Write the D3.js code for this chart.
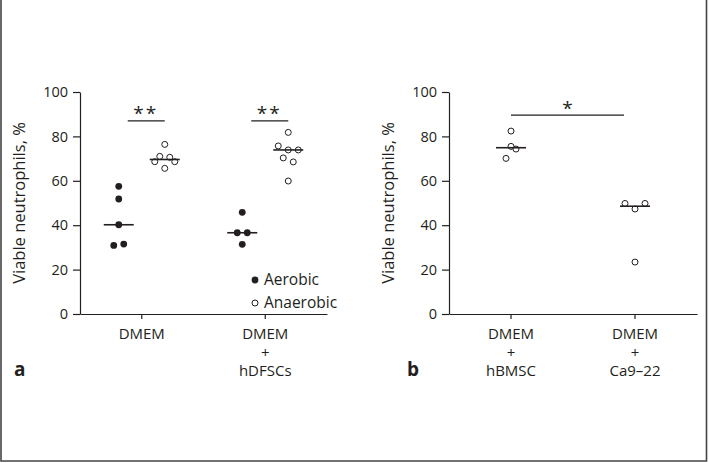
<!DOCTYPE html>
<html>
<head>
<meta charset="utf-8">
<script src="https://cdn.jsdelivr.net/npm/d3@7"></script>
<style>
  html, body { margin: 0; padding: 0; background: #fff; }
  svg { display: block; font-family: "Open Sans", "DejaVu Sans", sans-serif; }
</style>
</head>
<body>
<svg id="chart" width="709" height="463"></svg>
<script>
// ---------- data ----------
const yTicks = [0, 20, 40, 60, 80, 100];
const yLabel = "Viable neutrophils, %";

const panelACategories = ["DMEM", "DMEM + hDFSCs"];
const panelBCategories = ["DMEM + hBMSC", "DMEM + Ca9–22"];
const conditions = ["Aerobic", "Anaerobic"];

const aerobicDMEM     = [57.5, 51.8, 40.2, 30.9, 31.5];
const anaerobicDMEM   = [76.4, 71.0, 70.6, 68.6, 65.6, 68.6];
const aerobicHDFSC    = [45.8, 36.6, 36.6, 31.4];
const anaerobicHDFSC  = [81.8, 75.7, 73.9, 73.9, 70.3, 68.5, 59.9];
const anaerobicHBMSC  = [82.4, 75.5, 70.1, 74.3];
const anaerobicCa922  = [49.8, 47.3, 49.8, 23.4];

const sigA = [{cat: "DMEM", label: "**", level: 87}, {cat: "DMEM + hDFSCs", label: "**", level: 87}];
const sigB = [{label: "*", level: 89.6}];

// ---------- layout ----------
const svg = d3.select("#chart");
const ink = "#231f20";
const yTop = 92, yBottom = 314;
const y = d3.scaleLinear().domain([0, 100]).range([yBottom, yTop]);

// border (left, bottom, right)
svg.append("path")
  .attr("d", "M1,0 V461 H706.5 V0")
  .attr("fill", "none").attr("stroke", "#444").attr("stroke-width", 1.6);

// swarm offsets: group close values into rows, spread each row horizontally
function swarm(values, thresh = 4.6, step = 10) {
  const idx = values.map((v, i) => i).sort((a, b) => values[a] - values[b]);
  const rows = [];
  let cur = null;
  for (const i of idx) {
    if (cur && values[i] - values[cur[0]] <= thresh) cur.push(i);
    else { cur = [i]; rows.push(cur); }
  }
  const off = new Array(values.length);
  rows.forEach(r => {
    r.sort((a, b) => a - b);
    r.forEach((i, k) => off[i] = (k - (r.length - 1) / 2) * step);
  });
  return off;
}

function drawPanel(x0, x1, cats, groups, letter, letterX) {
  const g = svg.append("g");
  const x = d3.scaleBand().domain(cats).range([x0, x1]);
  const cx = c => x(c) + x.bandwidth() / 2;

  // y axis
  const yAxis = g.append("g").attr("transform", `translate(${x0},0)`)
    .call(d3.axisLeft(y).tickValues(yTicks).tickSize(7).tickSizeOuter(0).tickPadding(5));
  yAxis.selectAll("text").attr("font-size", 14.5).attr("fill", ink)
    .attr("font-family", "Open Sans, sans-serif");
  yAxis.selectAll("line,path").attr("stroke", ink).attr("stroke-width", 1.2);

  // x axis
  const xAxis = g.append("g").attr("transform", `translate(0,${yBottom})`)
    .call(d3.axisBottom(x).tickSize(5).tickSizeOuter(0).tickFormat(""));
  xAxis.selectAll("line,path").attr("stroke", ink).attr("stroke-width", 1.2);

  // category labels (multi-line)
  cats.forEach(c => {
    const lines = c.split(" + ").flatMap((s, i) => i ? ["+", s] : [s]);
    lines.forEach((s, i) => {
      g.append("text").attr("text-anchor", "middle")
        .attr("x", cx(c)).attr("y", 339 + i * 18.5)
        .attr("font-size", 15).attr("fill", ink).text(s);
    });
  });

  // y label
  g.append("text")
    .attr("transform", `translate(${x0 - 55},${(yTop + yBottom) / 2}) rotate(-90)`)
    .attr("text-anchor", "middle").attr("font-size", 16.5).attr("fill", ink)
    .text(yLabel);

  // panel letter
  g.append("text").attr("x", letterX).attr("y", 376)
    .attr("font-size", 19).attr("font-weight", "bold").attr("fill", ink).text(letter);

  // points + medians
  groups.forEach(gr => {
    const center = cx(gr.cat) + gr.shift;
    const off = swarm(gr.values);
    g.selectAll(null).data(gr.values).enter().append("circle")
      .attr("cx", (d, i) => center + off[i])
      .attr("cy", d => y(d))
      .attr("r", gr.filled ? 3.4 : 3.0)
      .attr("fill", gr.filled ? ink : "#fff")
      .attr("stroke", ink).attr("stroke-width", gr.filled ? 0 : 1);
    const med = d3.median(gr.values);
    g.append("line")
      .attr("x1", center - 15).attr("x2", center + 15)
      .attr("y1", y(med)).attr("y2", y(med))
      .attr("stroke", ink).attr("stroke-width", 1.6);
  });
  return {x, cx, g};
}

const cond = d3.scalePoint().domain(conditions).range([-23, 23]);

const A = drawPanel(80, 327, panelACategories, [
  {cat: "DMEM", shift: cond("Aerobic"), values: aerobicDMEM, filled: true},
  {cat: "DMEM", shift: cond("Anaerobic"), values: anaerobicDMEM, filled: false},
  {cat: "DMEM + hDFSCs", shift: cond("Aerobic"), values: aerobicHDFSC, filled: true},
  {cat: "DMEM + hDFSCs", shift: cond("Anaerobic"), values: anaerobicHDFSC, filled: false}
], "a", 14);

const B = drawPanel(449, 697, panelBCategories, [
  {cat: "DMEM + hBMSC", shift: 0, values: anaerobicHBMSC, filled: false},
  {cat: "DMEM + Ca9–22", shift: 0, values: anaerobicCa922, filled: false}
], "b", 407);

// significance bars
sigA.forEach(s => {
  const c = A.cx(s.cat);
  A.g.append("line").attr("x1", c - 14).attr("x2", c + 23)
    .attr("y1", y(s.level)).attr("y2", y(s.level)).attr("stroke", ink).attr("stroke-width", 1.3);
  A.g.append("text").attr("x", c + 4).attr("y", y(s.level) - 0.5)
    .attr("text-anchor", "middle").attr("font-size", 19).attr("letter-spacing", 2)
    .attr("fill", ink).text(s.label);
});
sigB.forEach(s => {
  const c1 = B.cx(panelBCategories[0]), c2 = B.cx(panelBCategories[1]);
  B.g.append("line").attr("x1", c1).attr("x2", c2 - 11)
    .attr("y1", y(s.level)).attr("y2", y(s.level)).attr("stroke", ink).attr("stroke-width", 1.3);
  B.g.append("text").attr("x", (c1 + c2 - 11) / 2).attr("y", y(s.level) - 0.5)
    .attr("text-anchor", "middle").attr("font-size", 19).attr("fill", ink).text(s.label);
});

// legend
const legend = A.g.append("g");
conditions.forEach((c, i) => {
  const ly = 280 + i * 23;
  legend.append("circle").attr("cx", 255).attr("cy", ly)
    .attr("r", i === 0 ? 3.4 : 3.0)
    .attr("fill", i === 0 ? ink : "#fff").attr("stroke", ink).attr("stroke-width", i === 0 ? 0 : 1);
  legend.append("text").attr("x", 264).attr("y", ly).attr("dy", "0.35em")
    .attr("font-size", 15.5).attr("fill", ink).text(c);
});
</script>
</body>
</html>
